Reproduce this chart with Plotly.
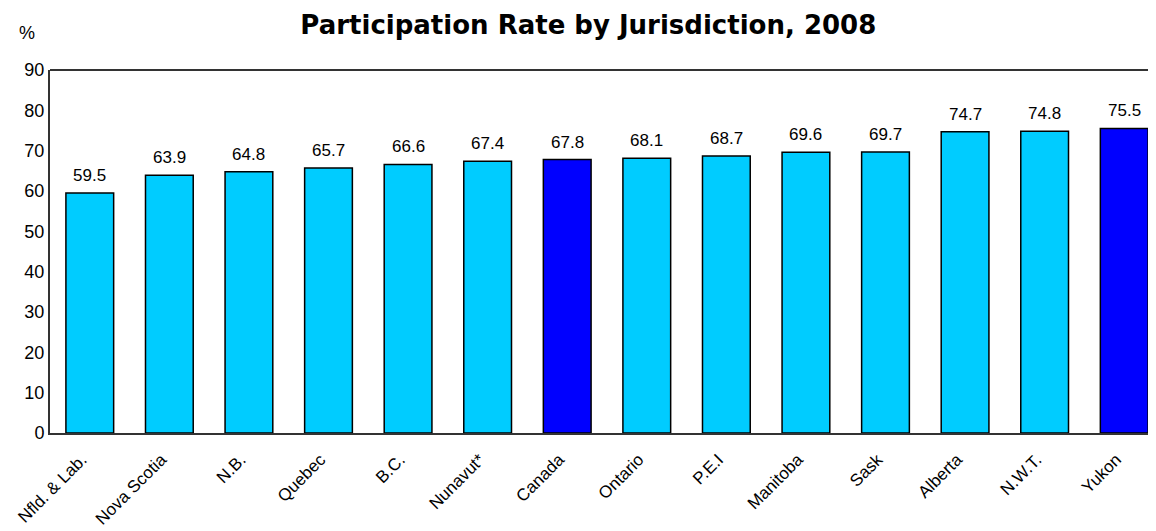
import plotly.graph_objects as go

categories = ["Nfld. & Lab.", "Nova Scotia", "N.B.", "Quebec", "B.C.", "Nunavut*",
              "Canada", "Ontario", "P.E.I", "Manitoba", "Sask", "Alberta", "N.W.T.", "Yukon"]
values = [59.5, 63.9, 64.8, 65.7, 66.6, 67.4, 67.8, 68.1, 68.7, 69.6, 69.7, 74.7, 74.8, 75.5]
highlight = ["Canada", "Yukon"]

colors = ["#0000FF" if c in highlight else "#00CCFF" for c in categories]
FONT = "Liberation Sans, Arial"

fig = go.Figure(go.Bar(
    x=categories, y=values,
    marker=dict(color=colors, line=dict(color="black", width=1.5)),
    width=0.6,
))

annotations = [dict(x=c, y=v, text=f"{v:.1f}", showarrow=False, yanchor="bottom",
                    yshift=6, font=dict(family=FONT, size=17, color="black"))
               for c, v in zip(categories, values)]
annotations.append(dict(text="%", xref="paper", yref="paper", x=-0.0206, y=1.102,
                        xanchor="center", yanchor="middle", showarrow=False,
                        font=dict(family=FONT, size=18, color="black")))

fig.update_layout(
    width=1156, height=531,
    margin=dict(l=42, r=0, t=62, b=106),
    paper_bgcolor="white", plot_bgcolor="white",
    showlegend=False,
    title=dict(text="<b>Participation Rate by Jurisdiction, 2008</b>",
               font=dict(family="DejaVu Sans", size=26, color="black"),
               x=0.502, xanchor="center", y=0.968, yanchor="middle"),
    xaxis=dict(tickangle=-45, showline=True, linecolor="#333", linewidth=2,
               tickfont=dict(family=FONT, size=17, color="black"),
               ticklabelshift=-8, ticklabelstandoff=8,
               ticks="", range=[-0.5, 13.5], automargin=False),
    yaxis=dict(range=[0, 90], dtick=10, showline=True, linecolor="#333", linewidth=2,
               mirror=False, showgrid=False, zeroline=False, ticks="", automargin=False,
               tickfont=dict(family=FONT, size=18, color="black")),
    annotations=annotations,
    shapes=[dict(type="line", xref="paper", yref="paper", x0=0, x1=1, y0=1, y1=1,
                 line=dict(color="#333", width=2))],
)

fig.write_html("out.html")
